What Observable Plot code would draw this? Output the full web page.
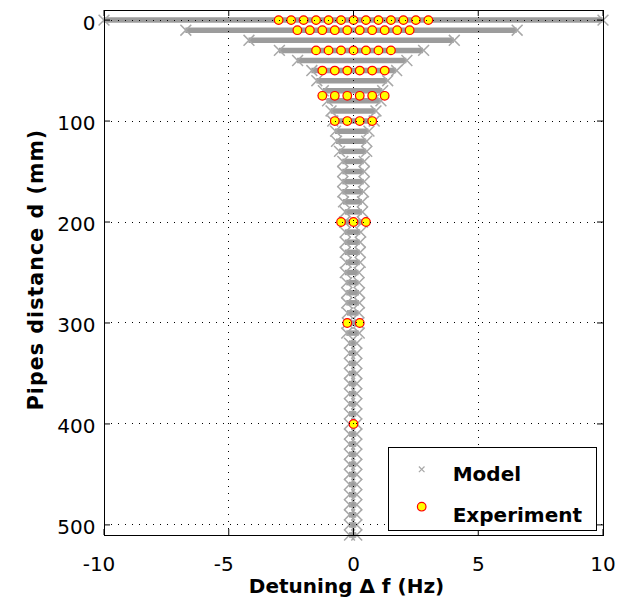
<!DOCTYPE html>
<html>
<head>
<meta charset="utf-8">
<script src="https://cdn.jsdelivr.net/npm/d3@7"></script>
<script src="https://cdn.jsdelivr.net/npm/@observablehq/plot@0.6"></script>
<style>
  html, body { margin: 0; padding: 0; background: #fff; }
  #wrap { position: relative; width: 630px; height: 604px; font-family: "DejaVu Sans", sans-serif; }
  #legend { position: absolute; left: 388px; top: 447px; width: 209px; height: 84px; box-sizing: border-box;
            border: 1px solid #000; background: #fff; }
  #legend svg { position: absolute; left: 0; top: 0; }
</style>
</head>
<body>
<div id="wrap"></div>
<script>
// ---- Data ----
const xTicks = [-10, -5, 0, 5, 10];
const yTicks = [0, 100, 200, 300, 400, 500];
const xDomain = [-10, 10];
const yDomain = [-10, 510];

// Model: spread of detuning for each pipe distance (left/right extremes, Hz)
const modelDistance = [0, 10, 20, 30, 40, 50, 60, 70, 80, 90, 100, 110, 120, 130, 140, 150, 160, 170, 180, 190,
  200, 210, 220, 230, 240, 250, 260, 270, 280, 290, 300, 310, 320, 330, 340, 350, 360, 370, 380, 390,
  400, 410, 420, 430, 440, 450, 460, 470, 480, 490, 500, 510];
const modelLeft = [-10, -6.72, -4.19, -2.97, -2.24, -1.67, -1.47, -1.21, -1.04, -0.90, -0.83, -0.72, -0.68, -0.56, -0.43, -0.43, -0.43, -0.43, -0.40, -0.33,
  -0.36, -0.33, -0.33, -0.33, -0.29, -0.33, -0.27, -0.27, -0.27, -0.24, -0.24, -0.27, -0.16, -0.16, -0.16, -0.16, -0.16, -0.16, -0.16, -0.16,
  -0.16, -0.16, -0.16, -0.16, -0.16, -0.16, -0.16, -0.16, -0.16, -0.16, -0.16, -0.16];
const modelRight = [10, 6.56, 4.04, 2.81, 2.14, 1.73, 1.37, 1.17, 1.10, 0.90, 0.83, 0.62, 0.53, 0.53, 0.43, 0.43, 0.43, 0.40, 0.36, 0.36,
  0.36, 0.29, 0.27, 0.27, 0.27, 0.22, 0.22, 0.24, 0.24, 0.22, 0.20, 0.23, 0.13, 0.13, 0.13, 0.13, 0.13, 0.13, 0.13, 0.13,
  0.13, 0.13, 0.13, 0.13, 0.13, 0.13, 0.13, 0.13, 0.13, 0.13, 0.13, 0.13];

// Experiment: measured detunings at each pipe distance
const expDistance = [0, 10, 30, 50, 75, 100, 200, 300, 400];
const expDetuning = [
  [-3, -2.5, -2, -1.5, -1, -0.5, 0, 0.5, 1, 1.5, 2, 2.5, 3],
  [-2.25, -1.75, -1.25, -0.75, -0.25, 0.25, 0.75, 1.25, 1.75, 2.25],
  [-1.5, -1, -0.5, 0, 0.5, 1, 1.5],
  [-1.25, -0.75, -0.25, 0.25, 0.75, 1.25],
  [-1.25, -0.75, -0.25, 0.25, 0.75, 1.25],
  [-0.75, -0.25, 0.25, 0.75],
  [-0.5, 0, 0.5],
  [-0.25, 0.25],
  [0]
];

const xLabel = "Detuning \u0394 f (Hz)";
const yLabel = "Pipes distance d (mm)";
const legendLabels = ["Model", "Experiment"];

// ---- Tables built from the arrays ----
const modelRows = modelDistance.map((d, i) => ({d, left: modelLeft[i], right: modelRight[i]}));
const modelEnds = modelRows.flatMap(r => [{d: r.d, f: r.left}, {d: r.d, f: r.right}]);
const expPoints = expDistance.flatMap((d, i) => expDetuning[i].map(f => ({d, f})));

const tickSym = (dx, dy) => ({draw(ctx) { ctx.moveTo(0, 0); ctx.lineTo(dx, dy); }});
const gx = xTicks.filter(v => v > xDomain[0] && v < xDomain[1]);

const BAND_GREY = "#9c9c9c";
const MODEL_GREY = "#a8a8a8";

const chart = Plot.plot({
  width: 630,
  height: 604,
  marginLeft: 103.5,
  marginRight: 27.5,
  marginTop: 9.5,
  marginBottom: 69.5,
  x: {domain: xDomain, axis: null},
  y: {domain: yDomain, reverse: true, axis: null},
  style: {fontFamily: "DejaVu Sans, sans-serif", fontSize: "20px", color: "black", background: "white"},
  marks: [
    // model bands
    Plot.ruleY(modelRows, {y: "d", x1: "left", x2: "right", stroke: BAND_GREY, strokeWidth: 5.5}),
    Plot.dot(modelEnds, {x: "f", y: "d", symbol: "times", r: 5, stroke: MODEL_GREY, strokeWidth: 1.5}),
    // experiment
    Plot.dot(expPoints, {x: "f", y: "d", r: 4.3, fill: "#ffff00", stroke: "#ff0000", strokeWidth: 1.2}),
    // grid (on top, as in the reference)
    Plot.gridX(gx, {stroke: "black", strokeOpacity: 1, strokeWidth: 1, strokeDasharray: "1,6", shapeRendering: "crispEdges"}),
    Plot.gridY(yTicks, {stroke: "black", strokeOpacity: 1, strokeWidth: 1, strokeDasharray: "1,6", shapeRendering: "crispEdges"}),
    // inward ticks on all four sides
    Plot.dot(xTicks, {x: d => d, y: () => yDomain[1], symbol: tickSym(0, -6), stroke: "black", fill: "none", strokeWidth: 1}),
    Plot.dot(xTicks, {x: d => d, y: () => yDomain[0], symbol: tickSym(0, 6), stroke: "black", fill: "none", strokeWidth: 1}),
    Plot.dot(yTicks, {y: d => d, x: () => xDomain[0], symbol: tickSym(6, 0), stroke: "black", fill: "none", strokeWidth: 1}),
    Plot.dot(yTicks, {y: d => d, x: () => xDomain[1], symbol: tickSym(-6, 0), stroke: "black", fill: "none", strokeWidth: 1}),
    // tick labels
    Plot.text(xTicks, {x: d => d, text: d => d < 0 ? `-${-d}\u2002` : `${d}`, frameAnchor: "bottom", dy: 29.5,
      lineAnchor: "middle", textAnchor: "middle", fontSize: 20, fill: "black"}),
    Plot.text(yTicks, {y: d => d, text: d => `${d}`, frameAnchor: "left", dx: -8.5, dy: 3,
      lineAnchor: "middle", textAnchor: "end", fontSize: 20, fill: "black"}),
    // axis labels
    Plot.text([xLabel], {text: d => d, frameAnchor: "bottom", dy: 52, dx: -7, lineAnchor: "middle", textAnchor: "middle",
      fontWeight: "bold", fontSize: 20, fill: "black"}),
    Plot.text([yLabel], {text: d => d, frameAnchor: "left", rotate: -90, dx: -67.5, dy: -3, lineAnchor: "middle", textAnchor: "middle",
      fontWeight: "bold", fontSize: 20.5, fill: "black"}),
    Plot.frame({stroke: "black", strokeWidth: 1, shapeRendering: "crispEdges"})
  ]
});

// slightly wider letter spacing on the y-axis title, as in the reference
d3.select(chart).selectAll("text").filter(function() { return this.textContent === yLabel; })
  .style("letter-spacing", "1.1px");

const wrap = document.getElementById("wrap");
wrap.appendChild(chart);

// legend box inside the plot area (lower right)
const legend = document.createElement("div");
legend.id = "legend";
legend.innerHTML = `
<svg width="207" height="82" xmlns="http://www.w3.org/2000/svg" font-family="DejaVu Sans, sans-serif">
  <path d="M29.9,18.5 L35.5,24.1 M35.5,18.5 L29.9,24.1" stroke="${MODEL_GREY}" stroke-width="1.2" fill="none"/>
  <text x="63.7" y="32.7" font-weight="bold" font-size="20" fill="#000">${legendLabels[0]}</text>
  <circle cx="32.7" cy="58.7" r="4.3" fill="#ffff00" stroke="#ff0000" stroke-width="1.2"/>
  <text x="63.7" y="73.7" font-weight="bold" font-size="20" fill="#000">${legendLabels[1]}</text>
</svg>`;
wrap.appendChild(legend);
</script>
</body>
</html>
